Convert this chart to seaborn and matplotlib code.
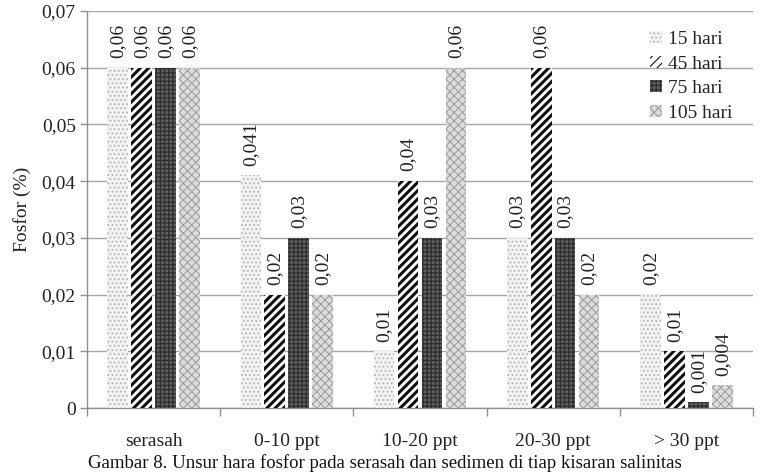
import matplotlib
matplotlib.use("Agg")
import matplotlib.pyplot as plt
import seaborn as sns
import pandas as pd
import numpy as np
from matplotlib.ticker import FixedLocator, FixedFormatter

categories = ["serasah", "0-10 ppt", "10-20 ppt", "20-30 ppt", "> 30 ppt"]
series_names = ["15 hari", "45 hari", "75 hari", "105 hari"]
v15 = [0.06, 0.041, 0.01, 0.03, 0.02]
v45 = [0.06, 0.02, 0.04, 0.06, 0.01]
v75 = [0.06, 0.03, 0.03, 0.03, 0.001]
v105 = [0.06, 0.02, 0.06, 0.02, 0.004]
l15 = ["0,06", "0,041", "0,01", "0,03", "0,02"]
l45 = ["0,06", "0,02", "0,04", "0,06", "0,01"]
l75 = ["0,06", "0,03", "0,03", "0,03", "0,001"]
l105 = ["0,06", "0,02", "0,06", "0,02", "0,004"]
yticks = [0, 0.01, 0.02, 0.03, 0.04, 0.05, 0.06, 0.07]
ytick_labels = ["0", "0,01", "0,02", "0,03", "0,04", "0,05", "0,06", "0,07"]
ylabel = "Fosfor (%)"
caption = "Gambar 8. Unsur hara fosfor pada serasah dan sedimen di tiap kisaran salinitas"

values = [v15, v45, v75, v105]
labels = [l15, l45, l75, l105]
rows = []
for s, vals in zip(series_names, values):
    for c, v in zip(categories, vals):
        rows.append({"kategori": c, "waktu": s, "nilai": v})
df = pd.DataFrame(rows)

sns.set_style("white")
plt.rcParams["font.family"] = ["Liberation Serif", "DejaVu Serif"]

fig = plt.figure(figsize=(7.61, 4.74), dpi=100)
ax = fig.add_axes([0.1143, 0.1392, 0.8752, 0.8376])

styles = [
    dict(fc="#f2f2f2", ec="#b4b4b4", hatch="....", hlw=0.8),
    dict(fc="#ffffff", ec="#111111", hatch="////", hlw=2.2),
    dict(fc="#5e5e5e", ec="#2e2e2e", hatch="++++", hlw=0.9),
    dict(fc="#dcdcdc", ec="#9a9a9a", hatch="xxxx", hlw=0.7),
]

sns.barplot(data=df, x="kategori", y="nilai", hue="waktu", order=categories,
            hue_order=series_names, width=0.72, ax=ax, errorbar=None,
            palette=[s["fc"] for s in styles], saturation=1, zorder=3)

for cont, st, labs in zip(ax.containers, styles, labels):
    for p, lab in zip(cont.patches, labs):
        w = p.get_width()
        x0 = p.get_x()
        p.set_width(w * 0.86)
        p.set_x(x0 + w * 0.07)
        p.set_facecolor(st["fc"])
        p.set_edgecolor(st["ec"])
        p.set_hatch(st["hatch"])
        p.set_linewidth(0)
        if hasattr(p, "set_hatch_linewidth"):
            p.set_hatch_linewidth(st["hlw"])
        p.set_zorder(3)
    ax.bar_label(cont, labels=labs, rotation=90, padding=7, fontsize=14,
                 color="#222222")

ax.set_ylim(0, 0.07)
ax.set_xlim(-0.5, 4.5)
ax.yaxis.set_major_locator(FixedLocator(yticks))
ax.yaxis.set_major_formatter(FixedFormatter(ytick_labels))
ax.yaxis.grid(True, color="#a6a6a6", linewidth=1.0, zorder=0)
ax.set_axisbelow(True)

ax.set_xlabel("")
ax.set_ylabel(ylabel, fontsize=14, labelpad=8, color="#222222")
ax.tick_params(axis="y", which="major", length=5, width=1, color="#909090",
               labelsize=14, labelcolor="#222222", direction="out", left=True, pad=3)
ax.set_xticks(range(len(categories)))
ax.set_xticklabels(categories)
ax.tick_params(axis="x", which="major", length=0, labelsize=14,
               labelcolor="#222222", pad=18)
ax.set_xticks(np.arange(-0.5, 4.6, 1.0), minor=True)
ax.tick_params(axis="x", which="minor", length=6, width=1, color="#909090",
               direction="out", bottom=True)

for side in ["top", "right"]:
    ax.spines[side].set_visible(False)
for side in ["left", "bottom"]:
    ax.spines[side].set_color("#909090")
    ax.spines[side].set_linewidth(1.0)

leg = ax.legend(loc="upper right", bbox_to_anchor=(0.995, 0.993), frameon=False,
                fontsize=14, handlelength=0.6, handleheight=0.6,
                handletextpad=0.3, labelspacing=0.38)
for h, st in zip(leg.legend_handles, styles):
    h.set_facecolor(st["fc"])
    h.set_edgecolor(st["ec"])
    h.set_hatch(st["hatch"])
    h.set_linewidth(0)
    if hasattr(h, "set_hatch_linewidth"):
        h.set_hatch_linewidth(min(st["hlw"], 0.8))

fig.text(0.115, 2 / 474, caption, ha="left", va="bottom", fontsize=13.5,
         color="#111111")

fig.savefig("out.png", dpi=100)
